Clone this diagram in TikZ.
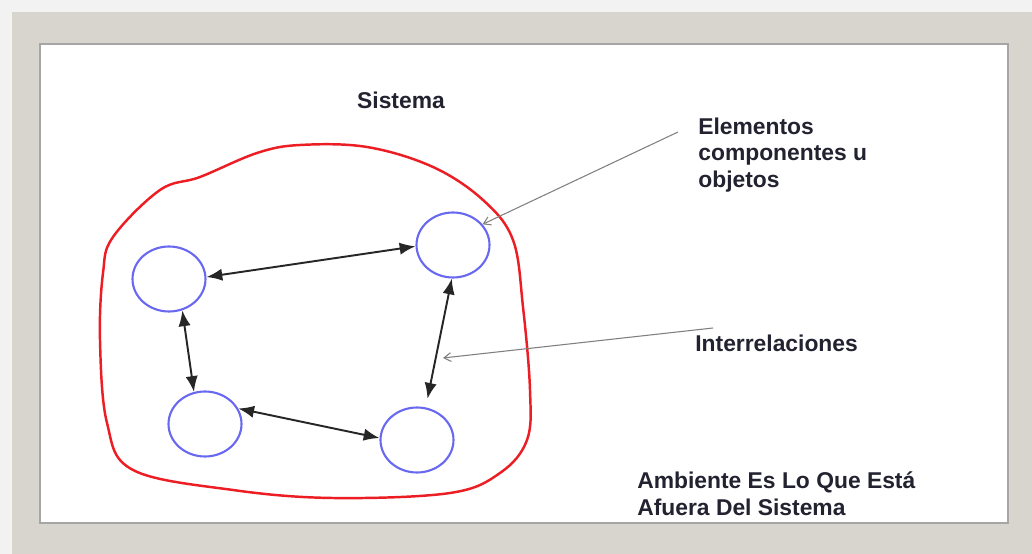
\documentclass[tikz,border=0pt]{standalone}
\usepackage{fontspec}
\setmainfont{Liberation Sans}
\usepackage{tikz}
\usetikzlibrary{arrows.meta, positioning, shapes.geometric}
\definecolor{framegray}{RGB}{216,213,206}
\definecolor{objblue}{RGB}{104,104,240}
\definecolor{blobred}{RGB}{236,30,36}
\definecolor{txtdark}{RGB}{34,34,48}
\tikzset{
  objeto/.style={ellipse, draw=objblue, line width=1.2pt, minimum width=1.46cm, minimum height=1.3cm},
  rel/.style={{Latex[length=9pt,width=7pt]}-{Latex[length=9pt,width=7pt]}, line width=1.1pt, black!85},
  puntero/.style={-{Straight Barb[length=4pt,width=5pt]}, gray, line width=0.6pt},
  etiqueta/.style={inner sep=0pt, text=txtdark, align=left, font=\fontsize{13pt}{15.3pt}\selectfont\bfseries}
}
\begin{document}
\begin{tikzpicture}[x=0.02cm, y=-0.02cm]
\useasboundingbox (0,0) rectangle (1032,554);
\fill[gray!10] (0,0) rectangle (1032,554);
\fill[framegray] (10,10) rectangle (1040,560);
\draw[white!70!framegray, line width=1pt] (11,560) -- (11,11) -- (1040,11);
\fill[white] (40,44) rectangle (1008,523);
\draw[gray!70, line width=1.2pt] (40,44) rectangle (1008,523);
\draw[blobred, line width=1.4pt] plot[smooth cycle, tension=0.6] coordinates {(113,237) (160,190) (200,177) (257,153) (300,145) (367,147) (433,167) (483,200) (513,240) (523,307) (530,390) (527,440) (500,473) (450,493) (333,498) (233,490) (133,470) (107,423) (100,340) (103,273)};
\node [objeto] (tl) at (169,279) {};
\node [objeto] (tr) at (453,245) {};
\node [objeto] (bl) at (205,424) {};
\node [objeto] (br) at (417,440) {};
\node [etiqueta] (sistema) at (401,100) {Sistema};
\node [etiqueta, anchor=west] (elementos) at (698,155) {Elementos\\componentes u\\objetos};
\node [etiqueta, anchor=west] (interrel) at (695,343) {Interrelaciones};
\node [etiqueta, anchor=west] (ambiente) at (637,494) {Ambiente Es Lo Que Está\\Afuera Del Sistema};
\coordinate (e0) at (678,132);
\coordinate (i0) at (713,328);
\coordinate (i1) at (443,358);
\draw (tl.3) edge[rel] (tr.182);
\draw (tl.-67) edge[rel] (bl.109);
\draw (bl.25) edge[rel] (br.177);
\draw (tr.-92) edge[rel, shorten >=5pt] (br.75);
\draw (e0) edge[puntero] (tr.35);
\draw (i0) edge[puntero] (i1);
\end{tikzpicture}
\end{document}
